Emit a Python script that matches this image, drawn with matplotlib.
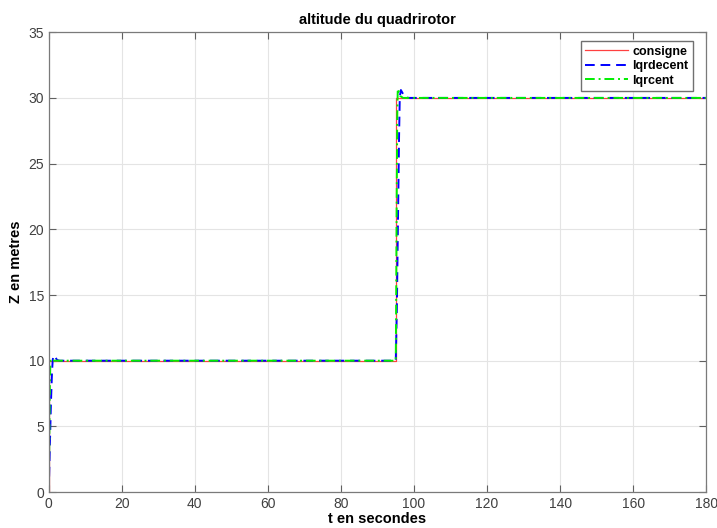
import matplotlib
matplotlib.use("Agg")
import matplotlib.pyplot as plt

plt.rcParams["font.family"] = ["Liberation Sans", "DejaVu Sans"]

# reference step (consigne)
t_ref = [0, 0, 95, 95, 180]
z_ref = [0, 10, 10, 30, 30]

# decentralised LQR response
t_dec = [0, 0.3, 0.6, 0.9, 1.1, 1.4, 1.8, 2.3, 3.0, 95.0, 95.3, 95.6, 95.9, 96.1, 96.4, 96.8, 97.4, 98.5, 180]
z_dec = [0, 3.5, 6.8, 9.2, 10.1, 10.4, 10.25, 10.05, 10.0, 10.0, 14.0, 20.5, 27.0, 30.1, 30.6, 30.4, 30.1, 30.0, 30.0]

# centralised LQR response
t_cen = [0, 0.15, 0.3, 0.45, 0.7, 1.0, 1.5, 95.0, 95.1, 95.25, 95.4, 95.55, 95.8, 96.2, 97.0, 180]
z_cen = [0, 4.0, 8.0, 10.0, 10.15, 10.05, 10.0, 10.0, 14.0, 22.0, 28.5, 30.7, 30.5, 30.15, 30.0, 30.0]

fig = plt.figure(figsize=(7.17, 5.28), dpi=100)
ax = fig.add_axes([0.068, 0.068, 0.917, 0.871])

ax.plot(t_ref, z_ref, color="#ff4040", lw=0.9, label="consigne")
ax.plot(t_dec, z_dec, color="#0000ff", lw=1.4, ls=(0, (5, 3)), label="lqrdecent")
ax.plot(t_cen, z_cen, color="#00ee00", lw=1.4, ls=(0, (5, 2, 1, 2)), label="lqrcent")

ax.set_xlim(0, 180)
ax.set_ylim(0, 35)
ax.set_xticks(range(0, 181, 20))
ax.set_yticks(range(0, 36, 5))
ax.grid(True, color="#e4e4e4", lw=0.8)
ax.set_axisbelow(True)
ax.tick_params(direction="in", top=True, right=True, length=5,
               labelsize=10, labelcolor="#404040", color="#606060")
for s in ax.spines.values():
    s.set_color("#7a7a7a")
    s.set_linewidth(0.9)

ax.set_title("altitude du quadrirotor", fontsize=10.5, fontweight="bold", pad=6)
ax.set_xlabel("t en secondes", fontsize=10.5, fontweight="bold", labelpad=1)
ax.set_ylabel("Z en metres", fontsize=10.5, fontweight="bold", labelpad=4)

leg = ax.legend(loc="upper right", fontsize=9, fancybox=False, framealpha=1,
                edgecolor="#707070", handlelength=3.4, borderpad=0.35,
                labelspacing=0.2, handletextpad=0.4, borderaxespad=0,
                bbox_to_anchor=(0.980, 0.980))
leg.get_frame().set_linewidth(1.0)
for txt in leg.get_texts():
    txt.set_fontweight("bold")

fig.savefig("out.png", dpi=100)
